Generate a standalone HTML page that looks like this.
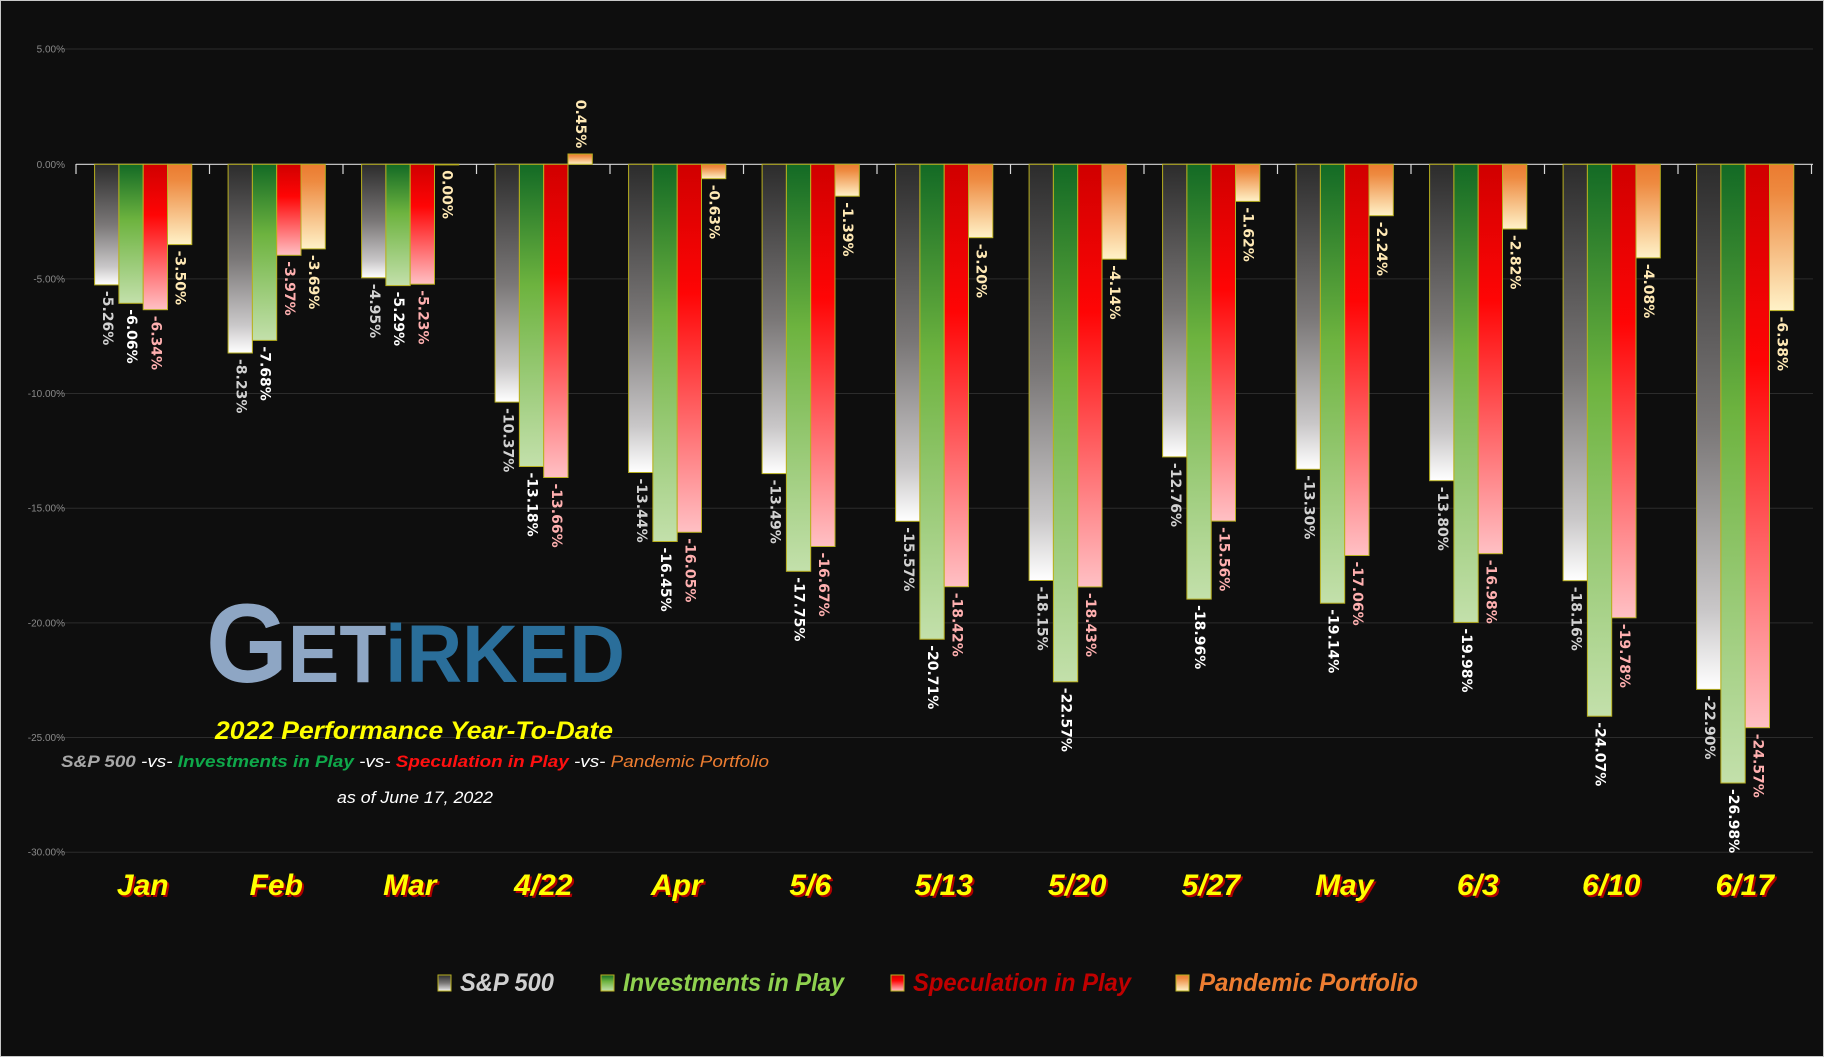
<!DOCTYPE html>
<html><head><meta charset="utf-8"><style>
html,body{margin:0;padding:0;background:#0e0e0e;}
svg{display:block;}
.lb{font-family:"DejaVu Sans","Liberation Sans",sans-serif;font-weight:bold;font-size:14px;dominant-baseline:central;}
.s{fill:#d2d2d2}.i{fill:#ffffff}.r{fill:#ffb0b0}.p{fill:#ffe9b5}
.ax{font-family:"Liberation Sans",sans-serif;font-size:10px;fill:#8a8a8a;text-anchor:end;}
.xl{font-family:"Liberation Sans",sans-serif;font-weight:bold;font-style:italic;font-size:30px;text-anchor:middle;}
.lg{font-family:"Liberation Sans",sans-serif;font-weight:bold;font-style:italic;font-size:25px;}
</style></head><body>
<svg width="1824" height="1057" viewBox="0 0 1824 1057" xmlns="http://www.w3.org/2000/svg">
<defs>
<linearGradient id="gs" x1="0" y1="0" x2="0" y2="1"><stop offset="0" stop-color="#2c2c2c"/><stop offset="0.5" stop-color="#7a7777"/><stop offset="0.85" stop-color="#c9c7c8"/><stop offset="1" stop-color="#ffffff"/></linearGradient>
<linearGradient id="gi" x1="0" y1="0" x2="0" y2="1"><stop offset="0" stop-color="#136a25"/><stop offset="0.4" stop-color="#6db33f"/><stop offset="1" stop-color="#c3e0ab"/></linearGradient>
<linearGradient id="gr" x1="0" y1="0" x2="0" y2="1"><stop offset="0" stop-color="#d00000"/><stop offset="0.35" stop-color="#ff0505"/><stop offset="1" stop-color="#ffc0c4"/></linearGradient>
<linearGradient id="gp" x1="0" y1="0" x2="0" y2="1"><stop offset="0" stop-color="#eb7b30"/><stop offset="0.2" stop-color="#ee8a40"/><stop offset="1" stop-color="#fff2c8"/></linearGradient>
</defs>
<rect x="0.5" y="0.5" width="1823" height="1056" fill="#0e0e0e" stroke="#c8c8c8"/>
<g stroke="#2c2c2c" stroke-width="1">
<line x1="57" y1="49" x2="1813" y2="49"/><line x1="57" y1="278.9" x2="1813" y2="278.9"/><line x1="57" y1="393.5" x2="1813" y2="393.5"/><line x1="57" y1="508.2" x2="1813" y2="508.2"/><line x1="57" y1="622.9" x2="1813" y2="622.9"/><line x1="57" y1="737.5" x2="1813" y2="737.5"/><line x1="57" y1="852.2" x2="1813" y2="852.2"/>
</g>
<text class="ax" x="65" y="52.5">5.00%</text>
<text class="ax" x="65" y="167.8">0.00%</text>
<text class="ax" x="65" y="282.4">-5.00%</text>
<text class="ax" x="65" y="397">-10.00%</text>
<text class="ax" x="65" y="511.7">-15.00%</text>
<text class="ax" x="65" y="626.4">-20.00%</text>
<text class="ax" x="65" y="741">-25.00%</text>
<text class="ax" x="65" y="855.7">-30.00%</text>

<!-- Logo & titles -->
<text x="206" y="682" font-family="Liberation Sans, sans-serif" font-weight="bold" textLength="419" lengthAdjust="spacingAndGlyphs"><tspan fill="#8ea6c4" font-size="112">G</tspan><tspan fill="#8ea6c4" font-size="82">ET</tspan><tspan fill="#2a6e9a" font-size="82">iRKED</tspan></text>
<text x="215" y="739" font-family="Liberation Sans, sans-serif" font-weight="bold" font-style="italic" font-size="25" fill="#ffff00" textLength="398" lengthAdjust="spacingAndGlyphs">2022 Performance Year-To-Date</text>
<text x="61" y="767" font-family="Liberation Sans, sans-serif" font-weight="bold" font-style="italic" font-size="17" textLength="708" lengthAdjust="spacingAndGlyphs"><tspan fill="#a8a8a8">S&amp;P 500 </tspan><tspan fill="#ffffff" font-weight="normal">-vs- </tspan><tspan fill="#0fa84a">Investments in Play </tspan><tspan fill="#ffffff" font-weight="normal">-vs- </tspan><tspan fill="#ff1010">Speculation in Play </tspan><tspan fill="#ffffff" font-weight="normal">-vs-  </tspan><tspan fill="#ed7d31" font-weight="normal">Pandemic Portfolio</tspan></text>
<text x="337" y="803" font-family="Liberation Sans, sans-serif" font-style="italic" font-size="17" fill="#ffffff" textLength="156" lengthAdjust="spacingAndGlyphs">as of June 17, 2022</text>

<!-- zero axis -->
<g stroke="#d8d8d8" stroke-width="1.2">
<line x1="76" y1="164.3" x2="1813" y2="164.3"/>
<line x1="76" y1="164" x2="76" y2="174"/><line x1="209.5" y1="164" x2="209.5" y2="174"/><line x1="343" y1="164" x2="343" y2="174"/><line x1="476.5" y1="164" x2="476.5" y2="174"/><line x1="610" y1="164" x2="610" y2="174"/><line x1="743.5" y1="164" x2="743.5" y2="174"/><line x1="877" y1="164" x2="877" y2="174"/><line x1="1010.5" y1="164" x2="1010.5" y2="174"/><line x1="1144" y1="164" x2="1144" y2="174"/><line x1="1277.5" y1="164" x2="1277.5" y2="174"/><line x1="1411" y1="164" x2="1411" y2="174"/><line x1="1544.5" y1="164" x2="1544.5" y2="174"/><line x1="1678" y1="164" x2="1678" y2="174"/><line x1="1811.5" y1="164" x2="1811.5" y2="174"/>
</g>

<g stroke="#b8b020" stroke-width="1">
<g transform="translate(94.6,164.3)"><rect x="0" y="0" width="24.3" height="120.6" fill="url(#gs)"/><rect x="24.3" y="0" width="24.3" height="139" fill="url(#gi)"/><rect x="48.6" y="0" width="24.3" height="145.4" fill="url(#gr)"/><rect x="72.9" y="0" width="24.3" height="80.3" fill="url(#gp)"/></g>
<g transform="translate(228.1,164.3)"><rect x="0" y="0" width="24.3" height="188.7" fill="url(#gs)"/><rect x="24.3" y="0" width="24.3" height="176.1" fill="url(#gi)"/><rect x="48.6" y="0" width="24.3" height="91" fill="url(#gr)"/><rect x="72.9" y="0" width="24.3" height="84.6" fill="url(#gp)"/></g>
<g transform="translate(361.6,164.3)"><rect x="0" y="0" width="24.3" height="113.5" fill="url(#gs)"/><rect x="24.3" y="0" width="24.3" height="121.3" fill="url(#gi)"/><rect x="48.6" y="0" width="24.3" height="119.9" fill="url(#gr)"/><rect x="72.9" y="0" width="24.3" height="0.6" fill="url(#gp)"/></g>
<g transform="translate(495.1,164.3)"><rect x="0" y="0" width="24.3" height="237.8" fill="url(#gs)"/><rect x="24.3" y="0" width="24.3" height="302.2" fill="url(#gi)"/><rect x="48.6" y="0" width="24.3" height="313.2" fill="url(#gr)"/><rect x="72.9" y="-10.3" width="24.3" height="10.3" fill="url(#gp)"/></g>
<g transform="translate(628.6,164.3)"><rect x="0" y="0" width="24.3" height="308.2" fill="url(#gs)"/><rect x="24.3" y="0" width="24.3" height="377.2" fill="url(#gi)"/><rect x="48.6" y="0" width="24.3" height="368" fill="url(#gr)"/><rect x="72.9" y="0" width="24.3" height="14.4" fill="url(#gp)"/></g>
<g transform="translate(762.1,164.3)"><rect x="0" y="0" width="24.3" height="309.3" fill="url(#gs)"/><rect x="24.3" y="0" width="24.3" height="407" fill="url(#gi)"/><rect x="48.6" y="0" width="24.3" height="382.2" fill="url(#gr)"/><rect x="72.9" y="0" width="24.3" height="31.9" fill="url(#gp)"/></g>
<g transform="translate(895.6,164.3)"><rect x="0" y="0" width="24.3" height="357" fill="url(#gs)"/><rect x="24.3" y="0" width="24.3" height="474.9" fill="url(#gi)"/><rect x="48.6" y="0" width="24.3" height="422.4" fill="url(#gr)"/><rect x="72.9" y="0" width="24.3" height="73.4" fill="url(#gp)"/></g>
<g transform="translate(1029.1,164.3)"><rect x="0" y="0" width="24.3" height="416.2" fill="url(#gs)"/><rect x="24.3" y="0" width="24.3" height="517.5" fill="url(#gi)"/><rect x="48.6" y="0" width="24.3" height="422.6" fill="url(#gr)"/><rect x="72.9" y="0" width="24.3" height="94.9" fill="url(#gp)"/></g>
<g transform="translate(1162.6,164.3)"><rect x="0" y="0" width="24.3" height="292.6" fill="url(#gs)"/><rect x="24.3" y="0" width="24.3" height="434.8" fill="url(#gi)"/><rect x="48.6" y="0" width="24.3" height="356.8" fill="url(#gr)"/><rect x="72.9" y="0" width="24.3" height="37.1" fill="url(#gp)"/></g>
<g transform="translate(1296.1,164.3)"><rect x="0" y="0" width="24.3" height="305" fill="url(#gs)"/><rect x="24.3" y="0" width="24.3" height="438.9" fill="url(#gi)"/><rect x="48.6" y="0" width="24.3" height="391.2" fill="url(#gr)"/><rect x="72.9" y="0" width="24.3" height="51.4" fill="url(#gp)"/></g>
<g transform="translate(1429.6,164.3)"><rect x="0" y="0" width="24.3" height="316.4" fill="url(#gs)"/><rect x="24.3" y="0" width="24.3" height="458.1" fill="url(#gi)"/><rect x="48.6" y="0" width="24.3" height="389.4" fill="url(#gr)"/><rect x="72.9" y="0" width="24.3" height="64.7" fill="url(#gp)"/></g>
<g transform="translate(1563.1,164.3)"><rect x="0" y="0" width="24.3" height="416.4" fill="url(#gs)"/><rect x="24.3" y="0" width="24.3" height="551.9" fill="url(#gi)"/><rect x="48.6" y="0" width="24.3" height="453.5" fill="url(#gr)"/><rect x="72.9" y="0" width="24.3" height="93.6" fill="url(#gp)"/></g>
<g transform="translate(1696.6,164.3)"><rect x="0" y="0" width="24.3" height="525.1" fill="url(#gs)"/><rect x="24.3" y="0" width="24.3" height="618.7" fill="url(#gi)"/><rect x="48.6" y="0" width="24.3" height="563.4" fill="url(#gr)"/><rect x="72.9" y="0" width="24.3" height="146.3" fill="url(#gp)"/></g>
</g>

<g class="lb">
<g transform="translate(94.6,164.3)"><text class="s" transform="translate(12.15,126.6) rotate(90)">-5.26%</text><text class="i" transform="translate(36.45,145) rotate(90)">-6.06%</text><text class="r" transform="translate(60.75,151.4) rotate(90)">-6.34%</text><text class="p" transform="translate(85.05,86.3) rotate(90)">-3.50%</text></g>
<g transform="translate(228.1,164.3)"><text class="s" transform="translate(12.15,194.7) rotate(90)">-8.23%</text><text class="i" transform="translate(36.45,182.1) rotate(90)">-7.68%</text><text class="r" transform="translate(60.75,97) rotate(90)">-3.97%</text><text class="p" transform="translate(85.05,90.6) rotate(90)">-3.69%</text></g>
<g transform="translate(361.6,164.3)"><text class="s" transform="translate(12.15,119.5) rotate(90)">-4.95%</text><text class="i" transform="translate(36.45,127.3) rotate(90)">-5.29%</text><text class="r" transform="translate(60.75,125.9) rotate(90)">-5.23%</text><text class="p" transform="translate(85.05,6) rotate(90)">0.00%</text></g>
<g transform="translate(495.1,164.3)"><text class="s" transform="translate(12.15,243.8) rotate(90)">-10.37%</text><text class="i" transform="translate(36.45,308.2) rotate(90)">-13.18%</text><text class="r" transform="translate(60.75,319.2) rotate(90)">-13.66%</text><text class="p" text-anchor="end" transform="translate(85.05,-16) rotate(90)">0.45%</text></g>
<g transform="translate(628.6,164.3)"><text class="s" transform="translate(12.15,314.2) rotate(90)">-13.44%</text><text class="i" transform="translate(36.45,383.2) rotate(90)">-16.45%</text><text class="r" transform="translate(60.75,374) rotate(90)">-16.05%</text><text class="p" transform="translate(85.05,20.4) rotate(90)">-0.63%</text></g>
<g transform="translate(762.1,164.3)"><text class="s" transform="translate(12.15,315.3) rotate(90)">-13.49%</text><text class="i" transform="translate(36.45,413) rotate(90)">-17.75%</text><text class="r" transform="translate(60.75,388.2) rotate(90)">-16.67%</text><text class="p" transform="translate(85.05,37.9) rotate(90)">-1.39%</text></g>
<g transform="translate(895.6,164.3)"><text class="s" transform="translate(12.15,363) rotate(90)">-15.57%</text><text class="i" transform="translate(36.45,480.9) rotate(90)">-20.71%</text><text class="r" transform="translate(60.75,428.4) rotate(90)">-18.42%</text><text class="p" transform="translate(85.05,79.4) rotate(90)">-3.20%</text></g>
<g transform="translate(1029.1,164.3)"><text class="s" transform="translate(12.15,422.2) rotate(90)">-18.15%</text><text class="i" transform="translate(36.45,523.5) rotate(90)">-22.57%</text><text class="r" transform="translate(60.75,428.6) rotate(90)">-18.43%</text><text class="p" transform="translate(85.05,100.9) rotate(90)">-4.14%</text></g>
<g transform="translate(1162.6,164.3)"><text class="s" transform="translate(12.15,298.6) rotate(90)">-12.76%</text><text class="i" transform="translate(36.45,440.8) rotate(90)">-18.96%</text><text class="r" transform="translate(60.75,362.8) rotate(90)">-15.56%</text><text class="p" transform="translate(85.05,43.1) rotate(90)">-1.62%</text></g>
<g transform="translate(1296.1,164.3)"><text class="s" transform="translate(12.15,311) rotate(90)">-13.30%</text><text class="i" transform="translate(36.45,444.9) rotate(90)">-19.14%</text><text class="r" transform="translate(60.75,397.2) rotate(90)">-17.06%</text><text class="p" transform="translate(85.05,57.4) rotate(90)">-2.24%</text></g>
<g transform="translate(1429.6,164.3)"><text class="s" transform="translate(12.15,322.4) rotate(90)">-13.80%</text><text class="i" transform="translate(36.45,464.1) rotate(90)">-19.98%</text><text class="r" transform="translate(60.75,395.4) rotate(90)">-16.98%</text><text class="p" transform="translate(85.05,70.7) rotate(90)">-2.82%</text></g>
<g transform="translate(1563.1,164.3)"><text class="s" transform="translate(12.15,422.4) rotate(90)">-18.16%</text><text class="i" transform="translate(36.45,557.9) rotate(90)">-24.07%</text><text class="r" transform="translate(60.75,459.5) rotate(90)">-19.78%</text><text class="p" transform="translate(85.05,99.6) rotate(90)">-4.08%</text></g>
<g transform="translate(1696.6,164.3)"><text class="s" transform="translate(12.15,531.1) rotate(90)">-22.90%</text><text class="i" transform="translate(36.45,624.7) rotate(90)">-26.98%</text><text class="r" transform="translate(60.75,569.4) rotate(90)">-24.57%</text><text class="p" transform="translate(85.05,152.3) rotate(90)">-6.38%</text></g>
</g>

<!-- x labels -->
<g class="xl" fill="#b00000" transform="translate(2,2)">
<text x="142.75" y="895">Jan</text><text x="276.25" y="895">Feb</text><text x="409.75" y="895">Mar</text><text x="543.25" y="895">4/22</text><text x="676.75" y="895">Apr</text><text x="810.25" y="895">5/6</text><text x="943.75" y="895">5/13</text><text x="1077.25" y="895">5/20</text><text x="1210.75" y="895">5/27</text><text x="1344.25" y="895">May</text><text x="1477.75" y="895">6/3</text><text x="1611.25" y="895">6/10</text><text x="1744.75" y="895">6/17</text>
</g>
<g class="xl" fill="#ffff00">
<text x="142.75" y="895">Jan</text><text x="276.25" y="895">Feb</text><text x="409.75" y="895">Mar</text><text x="543.25" y="895">4/22</text><text x="676.75" y="895">Apr</text><text x="810.25" y="895">5/6</text><text x="943.75" y="895">5/13</text><text x="1077.25" y="895">5/20</text><text x="1210.75" y="895">5/27</text><text x="1344.25" y="895">May</text><text x="1477.75" y="895">6/3</text><text x="1611.25" y="895">6/10</text><text x="1744.75" y="895">6/17</text>
</g>

<!-- legend -->
<g stroke="#b8b020" stroke-width="1">
<rect x="438" y="975" width="13" height="16" fill="url(#gs)"/>
<rect x="601" y="975" width="13" height="16" fill="url(#gi)"/>
<rect x="891" y="975" width="13" height="16" fill="url(#gr)"/>
<rect x="1176" y="975" width="13" height="16" fill="url(#gp)"/>
</g>
<text class="lg" x="460" y="991" fill="#d0d0d0" textLength="94" lengthAdjust="spacingAndGlyphs">S&amp;P 500</text>
<text class="lg" x="623" y="991" fill="#8fd14f" textLength="221" lengthAdjust="spacingAndGlyphs">Investments in Play</text>
<text class="lg" x="913" y="991" fill="#c00000" textLength="218" lengthAdjust="spacingAndGlyphs">Speculation in Play</text>
<text class="lg" x="1199" y="991" fill="#ed7d31" textLength="219" lengthAdjust="spacingAndGlyphs">Pandemic Portfolio</text>
</svg>
</body></html>
